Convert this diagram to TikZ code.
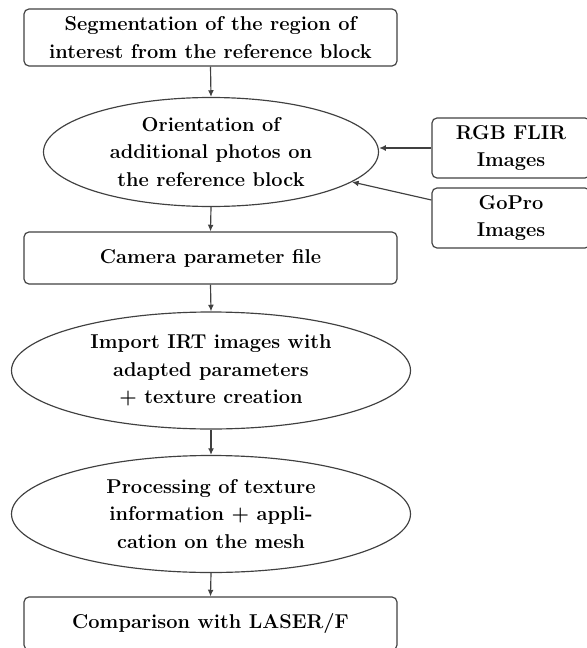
\documentclass[tikz,border=0pt]{standalone}
\usetikzlibrary{shapes.geometric,arrows.meta,calc}
\begin{document}
\begin{tikzpicture}[x=0.6pt,y=-0.6pt,
  every node/.style={font=\fontsize{12}{16.5}\selectfont\bfseries, align=center, text=black},
  box/.style={draw=black!75, line width=0.7pt, rounded corners=3pt, rectangle, inner sep=0pt},
  ell/.style={draw=black!75, line width=0.7pt, ellipse, inner sep=0pt},
  arr/.style={draw=black!75, line width=0.7pt, -{Latex[length=4pt,width=3.5pt]}}]
\useasboundingbox (0,0) rectangle (586,648);
\node[box, minimum width=223.8pt, minimum height=34.2pt] (b1) at (210.5,37.5)
  {Segmentation of the region of\\interest from the reference block};
\node[ell, minimum width=201pt, minimum height=65.4pt] (e1) at (211,152)
  {Orientation of\\additional photos on\\the reference block};
\node[box, minimum width=223.8pt, minimum height=31.2pt] (b2) at (210.5,258)
  {Camera parameter file};
\node[ell, minimum width=239.4pt, minimum height=70.2pt] (e2) at (211,370.5)
  {Import IRT images with\\adapted parameters\\+ texture creation};
\node[ell, minimum width=239.4pt, minimum height=70.2pt] (e3) at (211,514)
  {Processing of texture\\information + appli-\\cation on the mesh};
\node[box, minimum width=223.8pt, minimum height=31.8pt] (b3) at (210.5,623.5)
  {Comparison with LASER/F};
\node[box, minimum width=94.8pt, minimum height=36pt] (rgb) at (511,148)
  {RGB FLIR\\Images};
\node[box, minimum width=94.8pt, minimum height=36pt] (gopro) at (511,218)
  {GoPro\\Images};
\draw[arr] (b1.south) -- (e1.north);
\draw[arr] (e1.south) -- (b2.north);
\draw[arr] (b2.south) -- (e2.north);
\draw[arr] (e2.south) -- (e3.north);
\draw[arr] (e3.south) -- (b3.north);
\draw[arr] (rgb.west) -- (rgb.west -| e1.east);
\draw[arr] ($(gopro.west)+(0,-18)$) -- (e1.348);
\end{tikzpicture}
\end{document}
